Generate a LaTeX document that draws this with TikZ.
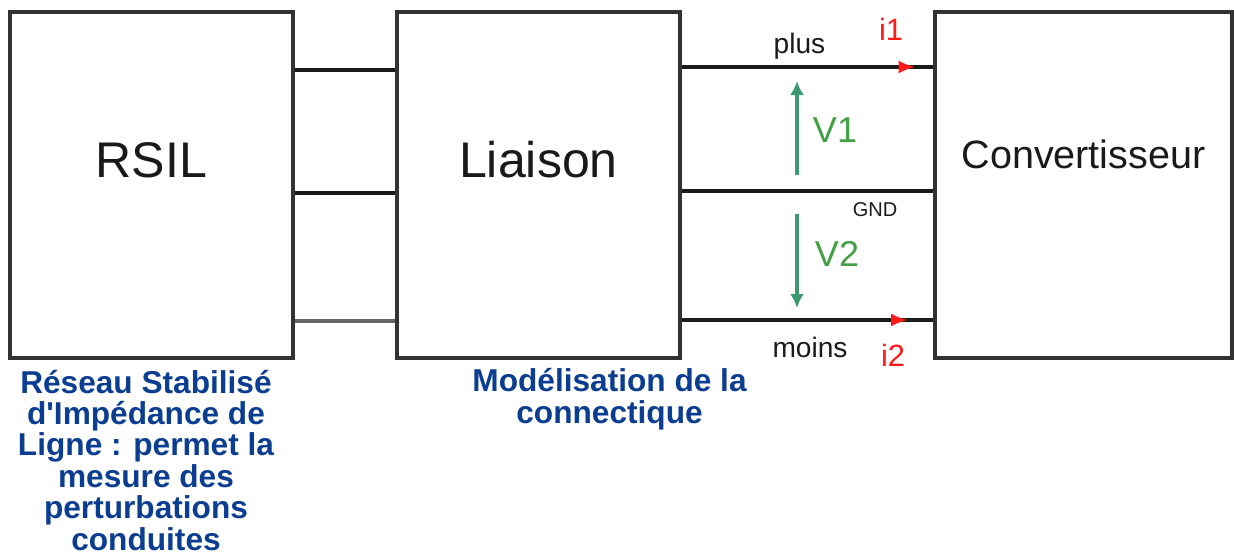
\documentclass[tikz,border=0pt]{standalone}
\usepackage{fontspec}
\setmainfont{Liberation Sans}
\usetikzlibrary{positioning,arrows.meta,decorations.markings}
\definecolor{ink}{HTML}{1A1A1A}
\definecolor{edge}{HTML}{333333}
\definecolor{greyw}{HTML}{666666}
\definecolor{vgreen}{HTML}{3D9970}
\definecolor{vlabel}{HTML}{44A044}
\definecolor{cred}{HTML}{FF1A1A}
\definecolor{navy}{HTML}{0B3D91}
\tikzset{
  blk/.style   ={draw=edge, line width=2pt, minimum width=5.66cm, minimum height=6.92cm, inner sep=0pt},
  wire/.style  ={draw=ink, line width=1.9pt},
  wireg/.style ={draw=greyw, line width=1.9pt},
  curw/.style  ={wire, postaction={decorate},
                 decoration={markings, mark=at position #1 with {\arrow[cred]{Latex[length=3.4mm,width=2.6mm]}}}},
  volt/.style  ={draw=vgreen, line width=2.3pt, -{Latex[length=2.8mm,width=2.8mm]}},
  big/.style   ={font=\fontsize{28.5}{30}\selectfont, color=ink},
  mid/.style   ={font=\fontsize{22.5}{24}\selectfont, color=ink},
  pin/.style   ={font=\fontsize{16}{18}\selectfont, color=ink, inner sep=0pt},
  gnd/.style   ={font=\fontsize{11.4}{12}\selectfont, color=ink, inner sep=0pt},
  amp/.style   ={font=\fontsize{17.5}{18}\selectfont, color=cred, inner sep=0pt},
  vlbl/.style  ={font=\fontsize{20.5}{22}\selectfont, color=vlabel, inner sep=0pt},
  note/.style  ={font=\fontsize{18}{17.9}\selectfont\bfseries, color=navy, align=center, inner sep=0pt, anchor=north},
}
\begin{document}
\begin{tikzpicture}
    \useasboundingbox (0,0) rectangle (24.68,-11.14);
    % blocks
    \node[blk, label={[big,yshift=0.5cm]center:RSIL}] (rsil) at (3.03,-3.70) {};
    \node[blk, label={[big,yshift=0.5cm]center:Liaison}] (lia) at (10.77,-3.70) {};
    \node[blk, minimum width=5.94cm, label={[mid,yshift=0.61cm]center:Convertisseur}] (conv) at (21.67,-3.70) {};
    % RSIL -- Liaison
    \draw[wire] (rsil.east |- 0,-1.40) -- (lia.west |- 0,-1.40);
    \draw[wire] (rsil.east |- 0,-3.86) -- (lia.west |- 0,-3.86);
    \draw[wireg] (rsil.east |- 0,-6.42) -- (lia.west |- 0,-6.42);
    % Liaison -- Convertisseur
    \draw[curw=0.93] (lia.east |- 0,-1.34) -- (conv.west |- 0,-1.34);
    \draw[wire] (lia.east |- 0,-3.82) -- (conv.west |- 0,-3.82);
    \draw[curw=0.90] (lia.east |- 0,-6.40) -- (conv.west |- 0,-6.40);
    \node[pin] (plus) at (15.99,-0.92) {plus};
    \node[pin] (moins) at (16.20,-6.94) {moins};
    \node[gnd] (gnd) at (17.50,-4.20) {GND};
    \node[amp] (i1) at (17.82,-0.58) {i1};
    \node[amp] (i2) at (17.86,-7.10) {i2};
    % tensions
    \coordinate (v1a) at (15.94,-3.50);
    \coordinate (v1b) at (15.94,-1.62);
    \coordinate (v2a) at (15.94,-4.28);
    \coordinate (v2b) at (15.94,-6.16);
    \draw[volt] (v1a) -- (v1b);
    \draw[volt] (v2a) -- (v2b);
    \node[vlbl] (v1) at (16.70,-2.60) {V1};
    \node[vlbl] (v2) at (16.74,-5.08) {V2};
    % legends
    \node[note] (nrsil) at (2.92,-7.39)
      {Réseau Stabilisé\\ d\textquotesingle Impédance de\\ Ligne : permet la\\ mesure des\\ perturbations\\ conduites};
    \node[note] (nlia) at (12.19,-7.36)
      {Modélisation de la\\ connectique};
\end{tikzpicture}
\end{document}
